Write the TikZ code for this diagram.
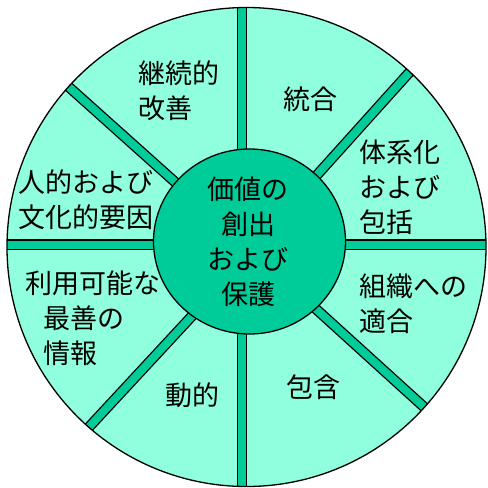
\documentclass[tikz,border=0pt]{standalone}
\usepackage{fontspec}
\newfontfamily\jp{Noto Sans CJK JP}
\usetikzlibrary{calc}
\definecolor{lightfill}{RGB}{143,255,221}
\definecolor{spokefill}{RGB}{0,204,153}
\begin{document}
\begin{tikzpicture}[x=1pt,y=-1pt,line join=round,
  spoke/.style={line width=1.3pt,draw=black,double=spokefill,double distance=8pt},
  lbl/.style={font=\jp\fontsize{27}{35}\selectfont,inner sep=0pt,text=black},
  lblL/.style={lbl,anchor=west,align=left},
  lblC/.style={lbl,anchor=center,align=center}]
\useasboundingbox (0,0) rectangle (488,488);
\coordinate (O) at (246.5,247);
\fill[lightfill] (O) circle (239.5);
\begin{scope}
  \clip (O) circle (239.5);
  \draw[spoke] (242,-10) -- (242,500);
  \draw[spoke] (-10,244.5) -- (500,244.5);
  \coordinate (ula) at (175,182); \coordinate (ulb) at (70,88);
  \coordinate (ura) at (317,175); \coordinate (urb) at (407,75);
  \coordinate (lla) at (192,316); \coordinate (llb) at (90,426);
  \coordinate (lra) at (316,309); \coordinate (lrb) at (424,407);
  \draw[spoke] ($(ula)!-0.3!(ulb)$) -- ($(ula)!1.4!(ulb)$);
  \draw[spoke] ($(ura)!-0.3!(urb)$) -- ($(ura)!1.4!(urb)$);
  \draw[spoke] ($(lla)!-0.3!(llb)$) -- ($(lla)!1.4!(llb)$);
  \draw[spoke] ($(lra)!-0.3!(lrb)$) -- ($(lra)!1.4!(lrb)$);
\end{scope}
\draw[line width=1.3pt] (O) circle (239.5);
\filldraw[fill=spokefill,line width=1.3pt] (249.5,241.5) ellipse (96 and 92.5);
\node[lblL] (t1) at (138,91) {継続的\\改善};
\node[lblC] (t2) at (310,99) {統合};
\node[lblL] (t3) at (359,187) {体系化\\および\\包括};
\node[lblL] (t4) at (18,200) {人的および\\文化的要因};
\node[lblL] (t5) at (25,318) {利用可能な\\\hspace*{18pt}最善の\\\hspace*{18pt}情報};
\node[lblC] (t6) at (192,395) {動的};
\node[lblC] (t7) at (313,387) {包含};
\node[lblL] (t8) at (359,304) {組織への\\適合};
\node[lblC] (t9) at (248,241.5) {価値の\\創出\\および\\保護};
\end{tikzpicture}
\end{document}
